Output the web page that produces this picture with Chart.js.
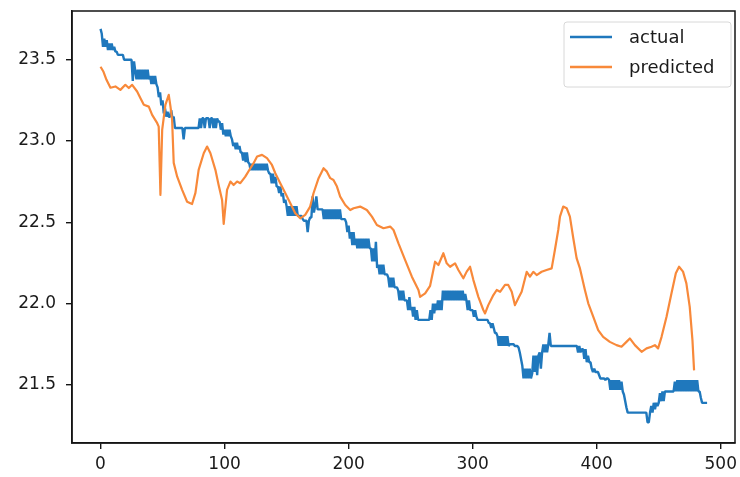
<!DOCTYPE html>
<html>
<head>
<meta charset="utf-8">
<script src="https://cdn.jsdelivr.net/npm/chart.js@4.4.1/dist/chart.umd.min.js"></script>
<style>
  html, body { margin: 0; padding: 0; background: #ffffff; }
  #c { display: block; }
</style>
</head>
<body>
<canvas id="c" width="740" height="477"></canvas>
<script>
// ---- data ----
const seriesNames = ["actual", "predicted"];

// actual: one value per index 0..489
const actualValues = [
  23.69, 23.66, 23.58, 23.63, 23.58, 23.62, 23.56, 23.60, 23.56, 23.60,
  23.56, 23.58, 23.55, 23.55, 23.53, 23.53, 23.53, 23.53, 23.53, 23.50,
  23.50, 23.50, 23.50, 23.50, 23.50, 23.50, 23.37, 23.49, 23.43, 23.38,
  23.44, 23.38, 23.44, 23.38, 23.44, 23.38, 23.44, 23.38, 23.44, 23.38,
  23.40, 23.35, 23.40, 23.35, 23.40, 23.35, 23.33, 23.27, 23.30, 23.22,
  23.25, 23.17, 23.20, 23.15, 23.18, 23.15, 23.15, 23.19, 23.14, 23.15,
  23.08, 23.08, 23.08, 23.08, 23.08, 23.08, 23.08, 23.01, 23.08, 23.08,
  23.08, 23.08, 23.08, 23.08, 23.08, 23.08, 23.08, 23.08, 23.08, 23.08,
  23.14, 23.08, 23.14, 23.14, 23.08, 23.14, 23.14, 23.14, 23.08, 23.14,
  23.14, 23.08, 23.14, 23.08, 23.14, 23.12, 23.12, 23.07, 23.11, 23.04,
  23.07, 23.03, 23.07, 23.03, 23.07, 23.03, 23.01, 22.97, 22.99, 22.95,
  22.99, 22.95, 22.97, 22.93, 22.93, 22.88, 22.93, 22.87, 22.93, 22.87,
  22.86, 22.82, 22.86, 22.82, 22.86, 22.82, 22.86, 22.82, 22.86, 22.82,
  22.86, 22.82, 22.86, 22.82, 22.86, 22.82, 22.80, 22.80, 22.74, 22.80,
  22.74, 22.78, 22.72, 22.72, 22.68, 22.72, 22.66, 22.68, 22.62, 22.64,
  22.60, 22.54, 22.60, 22.54, 22.60, 22.54, 22.60, 22.54, 22.60, 22.54,
  22.54, 22.54, 22.54, 22.52, 22.51, 22.51, 22.51, 22.44, 22.51, 22.53,
  22.53, 22.66, 22.56, 22.60, 22.66, 22.58, 22.58, 22.58, 22.58, 22.58,
  22.52, 22.58, 22.52, 22.58, 22.52, 22.58, 22.52, 22.58, 22.52, 22.58,
  22.52, 22.58, 22.52, 22.58, 22.52, 22.52, 22.52, 22.52, 22.50, 22.44,
  22.48, 22.40, 22.44, 22.36, 22.44, 22.36, 22.40, 22.34, 22.40, 22.34,
  22.40, 22.34, 22.40, 22.34, 22.40, 22.34, 22.40, 22.34, 22.34, 22.26,
  22.34, 22.26, 22.38, 22.22, 22.24, 22.18, 22.24, 22.18, 22.24, 22.18,
  22.18, 22.18, 22.16, 22.10, 22.16, 22.10, 22.16, 22.10, 22.10, 22.10,
  22.08, 22.02, 22.08, 22.02, 22.08, 22.02, 22.02, 22.02, 21.96, 22.04,
  21.96, 21.98, 21.92, 21.98, 21.90, 21.96, 21.90, 21.90, 21.90, 21.90,
  21.90, 21.90, 21.90, 21.90, 21.90, 21.90, 21.96, 21.90, 22.00, 21.94,
  22.00, 21.96, 22.02, 21.96, 22.02, 21.96, 22.08, 22.02, 22.08, 22.02,
  22.08, 22.02, 22.08, 22.02, 22.08, 22.02, 22.08, 22.02, 22.08, 22.02,
  22.08, 22.02, 22.08, 22.02, 22.06, 22.02, 21.96, 22.02, 21.96, 21.96,
  21.96, 21.92, 21.96, 21.92, 21.90, 21.90, 21.90, 21.90, 21.90, 21.90,
  21.90, 21.90, 21.90, 21.88, 21.88, 21.85, 21.88, 21.85, 21.82, 21.82,
  21.80, 21.74, 21.80, 21.74, 21.80, 21.74, 21.80, 21.74, 21.80, 21.74,
  21.75, 21.75, 21.75, 21.75, 21.74, 21.74, 21.74, 21.73, 21.70, 21.66,
  21.62, 21.54, 21.60, 21.54, 21.60, 21.54, 21.60, 21.54, 21.57, 21.68,
  21.58, 21.68, 21.56, 21.68, 21.70, 21.60, 21.70, 21.75, 21.70, 21.75,
  21.70, 21.75, 21.82, 21.74, 21.74, 21.74, 21.74, 21.74, 21.74, 21.74,
  21.74, 21.74, 21.74, 21.74, 21.74, 21.74, 21.74, 21.74, 21.74, 21.74,
  21.74, 21.74, 21.74, 21.74, 21.74, 21.70, 21.74, 21.70, 21.72, 21.72,
  21.66, 21.72, 21.64, 21.68, 21.64, 21.64, 21.60, 21.58, 21.60, 21.58,
  21.58, 21.58, 21.56, 21.54, 21.54, 21.54, 21.54, 21.53, 21.54, 21.54,
  21.53, 21.47, 21.53, 21.47, 21.53, 21.47, 21.53, 21.47, 21.53, 21.47,
  21.52, 21.46, 21.44, 21.40, 21.36, 21.33, 21.33, 21.33, 21.33, 21.33,
  21.33, 21.33, 21.33, 21.33, 21.33, 21.33, 21.33, 21.33, 21.33, 21.33,
  21.33, 21.27, 21.27, 21.33, 21.37, 21.33, 21.39, 21.35, 21.39, 21.37,
  21.39, 21.45, 21.40, 21.46, 21.40, 21.46, 21.46, 21.46, 21.46, 21.46,
  21.46, 21.46, 21.46, 21.52, 21.46, 21.53, 21.46, 21.53, 21.46, 21.53,
  21.46, 21.53, 21.46, 21.53, 21.46, 21.53, 21.46, 21.53, 21.46, 21.53,
  21.46, 21.53, 21.46, 21.46, 21.42, 21.39, 21.39, 21.39, 21.39, 21.39
];

// predicted: sample positions and values
const predictedX = [
  0, 2.4, 4.8, 8, 12, 16, 20, 22.8, 25.5, 29.5,
  32.2, 34.9, 38.9, 41.6, 45.7, 46.9, 48.3, 49.7, 52.3, 55,
  56.4, 57.7, 59, 61.8, 65.8, 69.8, 73.8, 76.5, 79.1, 83.2,
  85.9, 88.6, 92.6, 95.2, 98, 99.3, 102, 104.7, 107.3, 110.1,
  112.7, 116.7, 120.8, 123.4, 126.2, 130.2, 134.2, 138.2, 140.9, 144.9,
  149, 153, 157, 161, 165, 169, 171.7, 175.8, 179.8, 182.5,
  185.2, 187.8, 190.6, 193.2, 197.3, 201.3, 204, 209.3, 214.7, 218.8,
  222.8, 228.1, 233.5, 236.2, 240.2, 245.6, 251, 256.3, 257.6, 261.7,
  265.7, 269.7, 272.4, 276.4, 279.1, 281.8, 285.8, 288.5, 292.5, 295.2,
  297.9, 300.6, 304.6, 308.6, 310, 312.6, 316.7, 319.4, 322.1, 326.1,
  328.7, 331.5, 334.1, 336.8, 339.5, 343.6, 346.2, 348.9, 351.6, 355.6,
  359.6, 363.7, 366.3, 369, 370.4, 373, 375.8, 378.4, 381.1, 383.8,
  386.5, 390.5, 393.2, 397.2, 401.2, 405.2, 410.6, 416, 420, 424,
  426.7, 430.8, 436.2, 440.2, 444.2, 446.9, 449.5, 452.3, 456.3, 460.3,
  463.8, 466.4, 469.6, 472.3, 475, 477.2, 478.5
];
const predictedValues = [
  23.457, 23.426, 23.377, 23.328, 23.336, 23.315, 23.346, 23.326, 23.346, 23.305,
  23.264, 23.223, 23.212, 23.161, 23.110, 23.089, 22.669, 23.069, 23.223, 23.284,
  23.212, 23.130, 22.866, 22.781, 22.700, 22.627, 22.613, 22.681, 22.823, 22.925,
  22.966, 22.925, 22.823, 22.730, 22.638, 22.490, 22.700, 22.751, 22.730, 22.751,
  22.741, 22.781, 22.833, 22.864, 22.905, 22.915, 22.895, 22.853, 22.802, 22.741,
  22.679, 22.618, 22.556, 22.525, 22.546, 22.597, 22.679, 22.772, 22.833, 22.812,
  22.772, 22.761, 22.720, 22.658, 22.607, 22.576, 22.587, 22.597, 22.576, 22.535,
  22.484, 22.464, 22.474, 22.453, 22.371, 22.268, 22.166, 22.084, 22.042, 22.063,
  22.110, 22.258, 22.238, 22.310, 22.248, 22.227, 22.248, 22.207, 22.156, 22.197,
  22.227, 22.145, 22.042, 21.961, 21.940, 21.991, 22.053, 22.084, 22.073, 22.115,
  22.115, 22.073, 21.991, 22.033, 22.073, 22.196, 22.166, 22.196, 22.176, 22.196,
  22.207, 22.217, 22.330, 22.453, 22.535, 22.597, 22.587, 22.535, 22.404, 22.280,
  22.217, 22.084, 22.002, 21.920, 21.837, 21.796, 21.765, 21.745, 21.735, 21.765,
  21.786, 21.745, 21.704, 21.725, 21.735, 21.745, 21.725, 21.796, 21.920, 22.064,
  22.187, 22.227, 22.197, 22.125, 21.980, 21.776, 21.590
];

const xTickValues = [0, 100, 200, 300, 400, 500];
const yTickValues = [21.5, 22.0, 22.5, 23.0, 23.5];

// ---- build the chart ----
const actualPoints = actualValues.map((v, i) => ({ x: i, y: v }));
const predictedPoints = predictedX.map((x, i) => ({ x: x, y: predictedValues[i] }));

const COLORS = ['#1f78bd', '#f8893a'];
const FONT = 'DejaVu Sans';

const framePlugin = {
  id: 'frame',
  afterDatasetsDraw(chart) {
    const { ctx, chartArea: a } = chart;
    ctx.save();
    ctx.strokeStyle = '#151515';
    ctx.lineWidth = 1.5;
    ctx.strokeRect(a.left, a.top, a.right - a.left, a.bottom - a.top);
    ctx.restore();
  }
};

const legendPlugin = {
  id: 'mplLegend',
  afterDraw(chart) {
    const { ctx } = chart;
    const bx = 564, by = 22, bw = 167, bh = 65;
    ctx.save();
    ctx.fillStyle = 'rgba(255,255,255,0.85)';
    ctx.strokeStyle = '#d8d8d8';
    ctx.lineWidth = 1;
    ctx.beginPath();
    if (ctx.roundRect) ctx.roundRect(bx, by, bw, bh, 3); else ctx.rect(bx, by, bw, bh);
    ctx.fill();
    ctx.stroke();
    ctx.font = '18px "' + FONT + '"';
    ctx.textBaseline = 'middle';
    ctx.textAlign = 'left';
    chart.data.datasets.forEach((ds, i) => {
      const y = 37 + i * 30;
      ctx.strokeStyle = ds.borderColor;
      ctx.lineWidth = 2.4;
      ctx.beginPath();
      ctx.moveTo(570, y);
      ctx.lineTo(612, y);
      ctx.stroke();
      ctx.fillStyle = '#1a1a1a';
      ctx.fillText(ds.label, 629, y + 1);
    });
    ctx.restore();
  }
};

new Chart(document.getElementById('c'), {
  type: 'line',
  data: {
    datasets: [
      { label: seriesNames[0], data: actualPoints, borderColor: COLORS[0], backgroundColor: COLORS[0],
        borderWidth: 2.4, borderJoinStyle: 'bevel', pointRadius: 0, tension: 0, fill: false, order: 1 },
      { label: seriesNames[1], data: predictedPoints, borderColor: COLORS[1], backgroundColor: COLORS[1],
        borderWidth: 2.2, borderJoinStyle: 'round', pointRadius: 0, tension: 0, fill: false, order: 0 }
    ]
  },
  options: {
    responsive: false,
    animation: false,
    devicePixelRatio: 1,
    layout: { padding: { left: 0, right: 5, top: 11, bottom: 0 } },
    scales: {
      x: {
        type: 'linear', min: -23, max: 511.5,
        afterBuildTicks: s => { s.ticks = xTickValues.map(v => ({ value: v })); },
        afterFit: s => { s.height = 34; s.paddingLeft = 0; s.paddingRight = 0; },
        grid: { display: true, drawOnChartArea: false, drawTicks: true, tickLength: 6, color: '#151515', lineWidth: 1.4 },
        border: { display: true, color: '#151515', width: 1.5 },
        ticks: { font: { family: FONT, size: 17 }, color: '#1a1a1a', padding: 5, maxRotation: 0, autoSkip: false,
                 callback: v => String(v) }
      },
      y: {
        type: 'linear', min: 21.143, max: 23.80,
        afterBuildTicks: s => { s.ticks = yTickValues.map(v => ({ value: v })); },
        afterFit: s => { s.width = 72; s.paddingTop = 0; s.paddingBottom = 0; },
        grid: { display: true, drawOnChartArea: false, drawTicks: true, tickLength: 6, color: '#151515', lineWidth: 1.4 },
        border: { display: true, color: '#151515', width: 1.5 },
        ticks: { font: { family: FONT, size: 17 }, color: '#1a1a1a', padding: 10, autoSkip: false,
                 callback: v => Number(v).toFixed(1) }
      }
    },
    plugins: { legend: { display: false }, tooltip: { enabled: false } }
  },
  plugins: [framePlugin, legendPlugin]
});
</script>
</body>
</html>
